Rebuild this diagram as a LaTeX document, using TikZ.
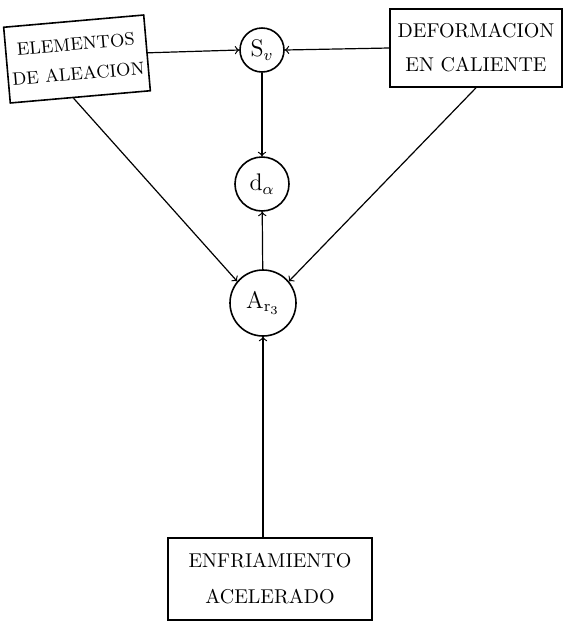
\documentclass[tikz,border=0pt]{standalone}
\begin{document}
\begin{tikzpicture}[x=0.5pt,y=-0.5pt,>=to,
	caja/.style={draw,thick,align=center,inner sep=2pt},
	disco/.style={draw,thick,circle,inner sep=0pt,font=\large}]
	\useasboundingbox (0,0) rectangle (567,622);
	\coordinate (P1) at (77,59); \coordinate (P2) at (476,48); \coordinate (P3) at (270,579);
	\coordinate (P4) at (262,50); \coordinate (P5) at (262,184); \coordinate (P6) at (263,303);
	\node[caja,rotate=5,minimum width=69pt,minimum height=38pt,font=\small,
		execute at begin node=\setlength{\baselineskip}{15pt}] (EA) at (P1) {ELEMENTOS\\DE ALEACION};
	\node[caja,minimum width=86pt,minimum height=39pt,
		execute at begin node=\setlength{\baselineskip}{17pt}] (DC) at (P2) {DEFORMACION\\EN CALIENTE};
	\node[caja,minimum width=102pt,minimum height=41pt,
		execute at begin node=\setlength{\baselineskip}{18pt}] (EN) at (P3) {ENFRIAMIENTO\\ACELERADO};
	\node[disco,minimum size=22pt] (Sv) at (P4) {$\mathrm{S}_{v}$};
	\node[disco,minimum size=27pt] (Da) at (P5) {$\mathrm{d}_{\alpha}$};
	\node[disco,minimum size=33pt] (Ar) at (P6) {$\mathrm{A}_{\mathrm{r}_3}$};
	\draw[semithick,->] (EA.east) -- (Sv.west);
	\draw[semithick,->] (DC.west) -- (Sv.east);
	\draw[semithick,->] (Sv) -- (Da);
	\draw[semithick,->] (Ar) -- (Da);
	\draw[semithick,->] (EA.-100) -- (Ar.140);
	\draw[semithick,->] (DC.south) -- (Ar.40);
	\draw[semithick,->] (EN.north -| Ar) -- (Ar.south);
\end{tikzpicture}
\end{document}
